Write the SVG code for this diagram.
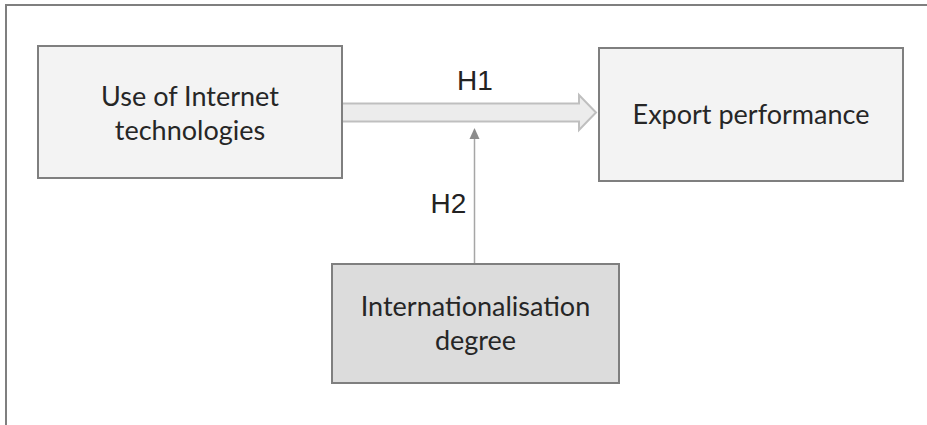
<svg xmlns="http://www.w3.org/2000/svg" width="927" height="425" viewBox="0 0 927 425">
<style>
.box{stroke:#7f7f7f;stroke-width:2}
.light{fill:#f3f3f3}
.dark{fill:#dcdcdc}
.t{font-family:Lato,"Open Sans",sans-serif;font-size:27px;fill:#262626;text-anchor:middle}
.h{font-family:"Liberation Sans",Arial,sans-serif;font-size:28px;fill:#222;text-anchor:middle}
</style>
<defs>
<marker id="tri" markerWidth="8" markerHeight="11" refX="4" refY="0" orient="auto-start-reverse" markerUnits="userSpaceOnUse" viewBox="0 0 8 11">
</marker>
</defs>
<rect width="927" height="425" fill="#fff"/>
<path d="M6,425 V5 H927" fill="none" stroke="#7f7f7f" stroke-width="2"/>
<g id="connectors">
<path d="M342,103.5 H579 V95 L596,112.5 L579,130 V121.5 H342" fill="#ececec" stroke="#bfbfbf" stroke-width="2"/>
<line x1="474.5" y1="138" x2="474.5" y2="264" stroke="#a6a6a6" stroke-width="1.5"/>
<polygon points="474.5,128 479.5,139 469.5,139" fill="#8c8c8c"/>
<text class="h" x="475" y="90">H1</text>
<text class="h" x="448.5" y="213">H2</text>
</g>
<g id="use-internet">
<rect class="box light" x="38" y="46" width="304" height="132"/>
<text class="t" x="190" y="106">Use of Internet</text>
<text class="t" x="190" y="140">technologies</text>
</g>
<g id="export-performance">
<rect class="box light" x="599" y="48" width="304" height="133"/>
<text class="t" x="751" y="124">Export performance</text>
</g>
<g id="internationalisation">
<rect class="box dark" x="332" y="264" width="287" height="119"/>
<text class="t" x="475.5" y="316">Internationalisation</text>
<text class="t" x="475.5" y="350">degree</text>
</g>
</svg>
